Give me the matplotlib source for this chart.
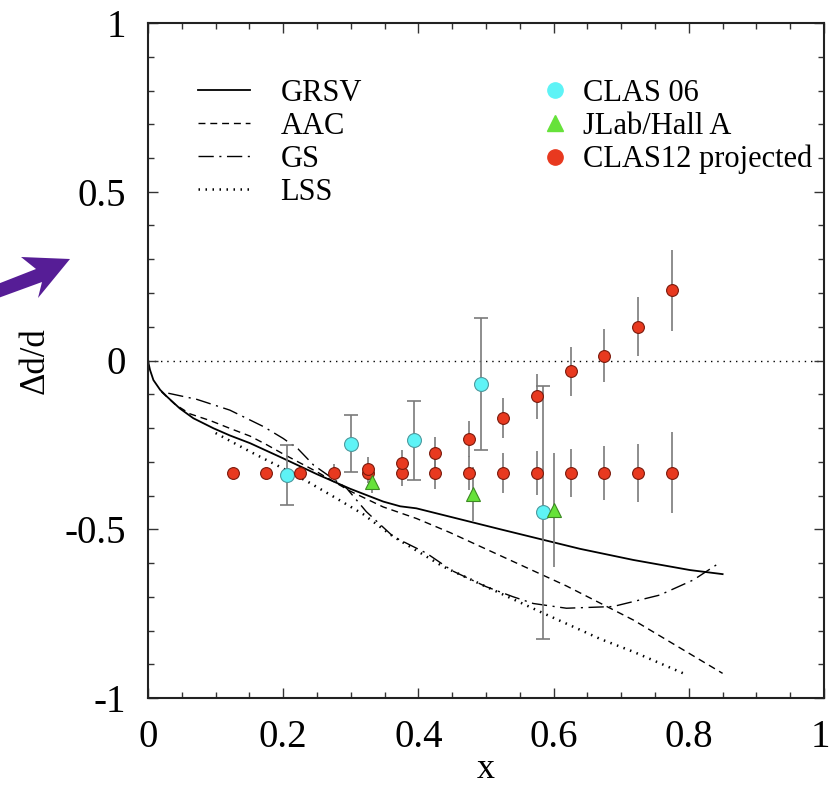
import matplotlib
matplotlib.use("Agg")
import matplotlib.pyplot as plt
import matplotlib.transforms as mtransforms
from matplotlib.lines import Line2D
from matplotlib.patches import Polygon

# ---- model curves: Delta d / d versus x ----
grsv_x = [0.0, 0.001, 0.003, 0.008, 0.018, 0.028, 0.047, 0.067, 0.097, 0.121, 0.151,
          0.176, 0.2, 0.25, 0.299, 0.348, 0.373, 0.397, 0.447, 0.521, 0.639, 0.718,
          0.802, 0.85]
grsv_y = [0.0, -0.01, -0.028, -0.058, -0.087, -0.107, -0.142, -0.171, -0.201, -0.222,
          -0.245, -0.268, -0.29, -0.337, -0.38, -0.418, -0.432, -0.438, -0.463, -0.5,
          -0.558, -0.591, -0.621, -0.633]

aac_x = [0.02, 0.04, 0.062, 0.092, 0.121, 0.151, 0.176, 0.2, 0.25, 0.299, 0.348, 0.397,
         0.447, 0.521, 0.619, 0.718, 0.85]
aac_y = [-0.093, -0.13, -0.158, -0.178, -0.201, -0.224, -0.25, -0.277, -0.33, -0.387,
         -0.434, -0.468, -0.51, -0.578, -0.668, -0.769, -0.927]

gs_x = [0.03, 0.072, 0.121, 0.171, 0.2, 0.222, 0.245, 0.294, 0.323, 0.363, 0.412, 0.45,
        0.5, 0.54, 0.57, 0.619, 0.688, 0.757, 0.807, 0.845]
gs_y = [-0.097, -0.115, -0.147, -0.196, -0.231, -0.262, -0.31, -0.379, -0.448, -0.522,
        -0.571, -0.623, -0.67, -0.70, -0.72, -0.734, -0.729, -0.695, -0.65, -0.60]

lss_x = [0.1, 0.151, 0.2, 0.237, 0.28, 0.318, 0.363, 0.437, 0.5, 0.585, 0.669, 0.718, 0.792]
lss_y = [-0.215, -0.27, -0.32, -0.36, -0.41, -0.455, -0.522, -0.611, -0.67, -0.749,
         -0.825, -0.863, -0.927]

# ---- data ----
clas06_x = [0.205, 0.300, 0.394, 0.492, 0.585]
clas06_y = [-0.339, -0.246, -0.237, -0.070, -0.450]
clas06_err = [0.088, 0.084, 0.118, 0.196, 0.375]

halla_x = [0.331, 0.481, 0.600]
halla_y = [-0.359, -0.396, -0.443]
halla_err = [0.035, 0.080, 0.170]

clas12_x = [0.125, 0.175, 0.225, 0.275, 0.325, 0.375, 0.425, 0.475, 0.525, 0.575,
            0.625, 0.675, 0.725, 0.775]
clas12_flat_y = [-0.333] * 14
clas12_flat_err = [0.008, 0.008, 0.01, 0.025, 0.03, 0.04, 0.048, 0.05, 0.06, 0.066,
                   0.072, 0.079, 0.087, 0.12]

clas12_rise_x = [0.325, 0.375, 0.425, 0.475, 0.525, 0.575, 0.625, 0.675, 0.725, 0.775]
clas12_rise_y = [-0.320, -0.305, -0.273, -0.233, -0.171, -0.106, -0.032, 0.014, 0.100, 0.208]
clas12_rise_err = [0.035, 0.04, 0.045, 0.053, 0.059, 0.066, 0.073, 0.079, 0.087, 0.12]

x_ticks = [0, 0.2, 0.4, 0.6, 0.8, 1]
x_tick_labels = ["0", "0.2", "0.4", "0.6", "0.8", "1"]
y_ticks = [-1, -0.5, 0, 0.5, 1]
y_tick_labels = ["-1", "-0.5", "0", "0.5", "1"]

plt.rcParams["font.family"] = ["Liberation Serif", "DejaVu Serif"]

W, H = 831, 787
fig = plt.figure(figsize=(W / 100, H / 100), dpi=100)
ax = fig.add_axes([148 / W, 1 - 698 / H, 676 / W, 675 / H])

# zero reference line
ax.axhline(0, color="black", lw=1.0, ls=(0, (1, 3.5)), zorder=1)

# model curves
ax.plot(grsv_x, grsv_y, color="black", lw=1.3, ls="-", label="GRSV", zorder=2)
ax.plot(aac_x, aac_y, color="black", lw=1.0, ls=(0, (5, 3.5)), label="AAC", zorder=2)
ax.plot(gs_x, gs_y, color="black", lw=1.0, ls=(0, (11, 4, 1.5, 4)), label="GS", zorder=2)
ax.plot(lss_x, lss_y, color="black", lw=1.8, ls=(0, (0.6, 2.2)), label="LSS", zorder=2)

# error bars
bar_kw = dict(fmt="none", ecolor="#7a7a7a", elinewidth=1.2, zorder=3)
ax.errorbar(clas06_x, clas06_y, yerr=clas06_err, capsize=5, capthick=1.2, **bar_kw)
ax.errorbar(halla_x, halla_y, yerr=halla_err, **bar_kw)
ax.errorbar(clas12_x, clas12_flat_y, yerr=clas12_flat_err, **bar_kw)
ax.errorbar(clas12_rise_x, clas12_rise_y, yerr=clas12_rise_err, **bar_kw)

# markers
cyan, green, red = "#5ef3f6", "#66e23a", "#e8391f"
ax.plot(clas06_x, clas06_y, "o", ms=10, mfc=cyan, mec="#4d9a9e", mew=0.8, ls="none",
        zorder=4)
ax.plot(clas12_x, clas12_flat_y, "o", ms=8.5, mfc=red, mec="#7a1a0c", mew=0.8, ls="none",
        zorder=5)
ax.plot(clas12_rise_x, clas12_rise_y, "o", ms=8.5, mfc=red, mec="#7a1a0c", mew=0.8,
        ls="none", zorder=5)
ax.plot(halla_x, halla_y, "^", ms=10, mfc=green, mec="#3c8a22", mew=0.8, ls="none",
        zorder=6)

ax.set_xlim(0, 1)
ax.set_ylim(-1, 1)
ax.set_xticks(x_ticks)
ax.set_xticklabels(x_tick_labels)
ax.set_yticks(y_ticks)
ax.set_yticklabels(y_tick_labels)
ax.set_xticks([i * 0.05 for i in range(21)], minor=True)
ax.set_yticks([-1 + i * 0.1 for i in range(21)], minor=True)
ax.tick_params(which="both", direction="in", top=True, right=True, width=1.0,
               color="#333333")
ax.tick_params(which="major", length=7, labelsize=28)
ax.tick_params(which="minor", length=4)
ax.tick_params(axis="x", which="major", pad=15)
ax.tick_params(axis="y", which="major", pad=16)
for s in ax.spines.values():
    s.set_linewidth(1.5)
    s.set_color("#222222")

# keep the last x tick label inside the canvas
last_label = ax.xaxis.get_major_ticks()[-1].label1
last_label.set_transform(last_label.get_transform() +
                         mtransforms.ScaledTranslation(-4 / 100, 0, fig.dpi_scale_trans))

ax.set_xlabel("x", fontsize=26, labelpad=-2)
ax.set_ylabel("Δd/d", fontsize=25, labelpad=9)

# legends
leg1 = ax.legend(loc="upper left", bbox_to_anchor=(0.074, 0.917), frameon=False,
                 fontsize=22, handlelength=1.7, handletextpad=1.0, labelspacing=0.13,
                 borderpad=0, borderaxespad=0)
ax.add_artist(leg1)

data_handles = [
    Line2D([], [], marker="o", ls="none", ms=11, mfc=cyan, mec=cyan),
    Line2D([], [], marker="^", ls="none", ms=11, mfc=green, mec=green),
    Line2D([], [], marker="o", ls="none", ms=11, mfc=red, mec=red),
]
ax.legend(data_handles, ["CLAS 06", "JLab/Hall A", "CLAS12 projected"], loc="upper left",
          bbox_to_anchor=(0.584, 0.917), frameon=False, fontsize=22, handlelength=0.8,
          handletextpad=0.5, labelspacing=0.13, borderpad=0, borderaxespad=0)

# pointer arrow on the left margin
arrow_px = [(-10, 287), (36, 269), (21, 257), (70, 259), (38, 298), (42, 282), (-10, 301)]
arrow = Polygon([(px / W, 1 - py / H) for px, py in arrow_px], closed=True,
                transform=fig.transFigure, facecolor="#561d96", edgecolor="none",
                clip_on=False)
fig.patches.append(arrow)

fig.savefig("out.png", dpi=100)
